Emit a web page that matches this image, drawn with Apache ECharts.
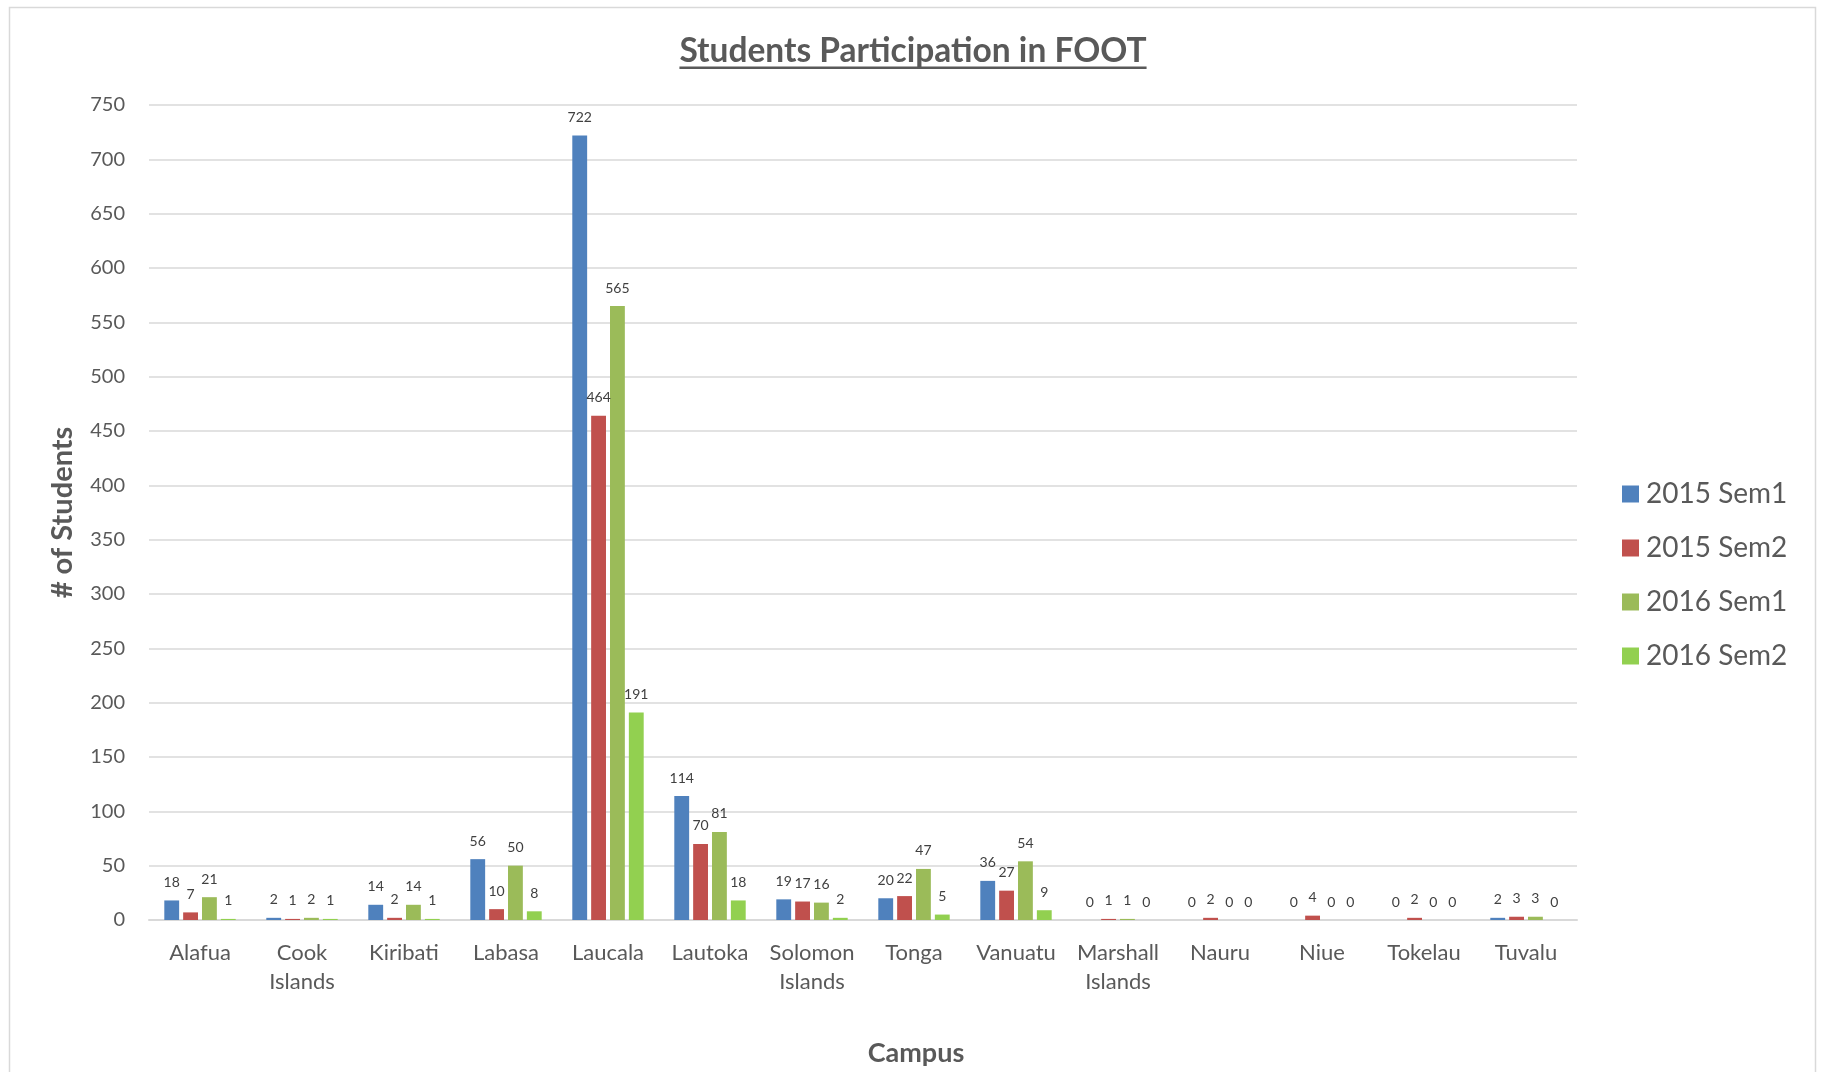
<!DOCTYPE html>
<html>
<head>
<meta charset="utf-8">
<title>Students Participation in FOOT</title>
<script src="https://cdn.jsdelivr.net/npm/echarts@6/dist/echarts.min.js"></script>
<style>
  html, body { margin: 0; padding: 0; background: #ffffff; }
  #chart { width: 1822px; height: 1072px; }
</style>
</head>
<body>
<div id="chart"></div>
<script>
// Campuses along the x axis
const campuses = ['Alafua', 'Cook\nIslands', 'Kiribati', 'Labasa', 'Laucala', 'Lautoka',
  'Solomon\nIslands', 'Tonga', 'Vanuatu', 'Marshall\nIslands', 'Nauru', 'Niue', 'Tokelau', 'Tuvalu'];

// Student counts per semester
const sem2015_1 = [18, 2, 14, 56, 722, 114, 19, 20, 36, 0, 0, 0, 0, 2];
const sem2015_2 = [7, 1, 2, 10, 464, 70, 17, 22, 27, 1, 2, 4, 2, 3];
const sem2016_1 = [21, 2, 14, 50, 565, 81, 16, 47, 54, 1, 0, 0, 0, 3];
const sem2016_2 = [1, 1, 1, 8, 191, 18, 2, 5, 9, 0, 0, 0, 0, 0];

const seriesNames = ['2015 Sem1', '2015 Sem2', '2016 Sem1', '2016 Sem2'];
const seriesColors = ['#4F81BD', '#C0504D', '#9BBB59', '#92D050'];
const seriesData = [sem2015_1, sem2015_2, sem2016_1, sem2016_2];

const titleText = 'Students Participation in FOOT';
const FONT = 'Lato, "Open Sans", "Noto Sans", sans-serif';
const GREY = '#595959';

// measure the title so its underline spans the text exactly
const titleSize = 33.5;
const ctx = document.createElement('canvas').getContext('2d');
ctx.font = 'bold ' + titleSize + 'px ' + FONT;
const titleWidth = ctx.measureText(titleText).width;
const titleCx = 913;

const chart = echarts.init(document.getElementById('chart'), null, { renderer: 'canvas' });

chart.setOption({
  backgroundColor: '#ffffff',
  animation: false,
  textStyle: { fontFamily: FONT },
  graphic: [
    {
      type: 'rect', silent: true,
      shape: { x: 9.5, y: 7.5, width: 1806, height: 1080 },
      style: { fill: 'none', stroke: '#D9D9D9', lineWidth: 1.5 }
    },
    {
      type: 'text', silent: true,
      style: {
        text: titleText, x: titleCx, y: 51,
        align: 'center', verticalAlign: 'middle',
        font: 'bold ' + titleSize + 'px ' + FONT, fill: GREY
      }
    },
    {
      type: 'rect', silent: true,
      shape: { x: titleCx - titleWidth / 2, y: 66.5, width: titleWidth, height: 2.5 },
      style: { fill: GREY }
    }
  ],
  legend: {
    orient: 'vertical',
    left: 1617,
    top: 475,
    icon: 'rect',
    itemWidth: 17,
    itemHeight: 17,
    itemGap: 26,
    textStyle: { fontSize: 28, color: GREY, lineHeight: 28, padding: [0, 0, 0, 2] },
    data: seriesNames
  },
  grid: { left: 149, right: 245, top: 105, bottom: 152, containLabel: false },
  xAxis: {
    type: 'category',
    data: campuses,
    name: 'Campus',
    nameLocation: 'middle',
    nameGap: 120,
    // the axis title sits centred on the whole chart rather than the plot
    nameTextStyle: { fontSize: 27, fontWeight: 'bold', color: GREY, padding: [0, 0, 0, 106] },
    axisLine: { show: true, lineStyle: { color: '#D9D9D9', width: 2 } },
    axisTick: { show: false },
    axisLabel: { fontSize: 22, color: GREY, margin: 18, lineHeight: 29, interval: 0 }
  },
  yAxis: {
    type: 'value',
    min: 0, max: 750, interval: 50,
    name: '# of Students',
    nameLocation: 'middle',
    nameGap: 72,
    nameTextStyle: { fontSize: 29, fontWeight: 'bold', color: GREY },
    axisLine: { show: false },
    axisTick: { show: false },
    axisLabel: { fontSize: 20, color: GREY, margin: 24 },
    splitLine: { lineStyle: { color: '#D9D9D9', width: 1.5 } }
  },
  series: seriesNames.map((name, i) => ({
    name: name,
    type: 'bar',
    data: seriesData[i],
    barGap: '27%',
    barCategoryGap: '30%',
    itemStyle: { color: seriesColors[i] },
    label: {
      show: true, position: 'top', distance: 11,
      fontSize: 14, color: '#404040'
    }
  }))
});
</script>
</body>
</html>
